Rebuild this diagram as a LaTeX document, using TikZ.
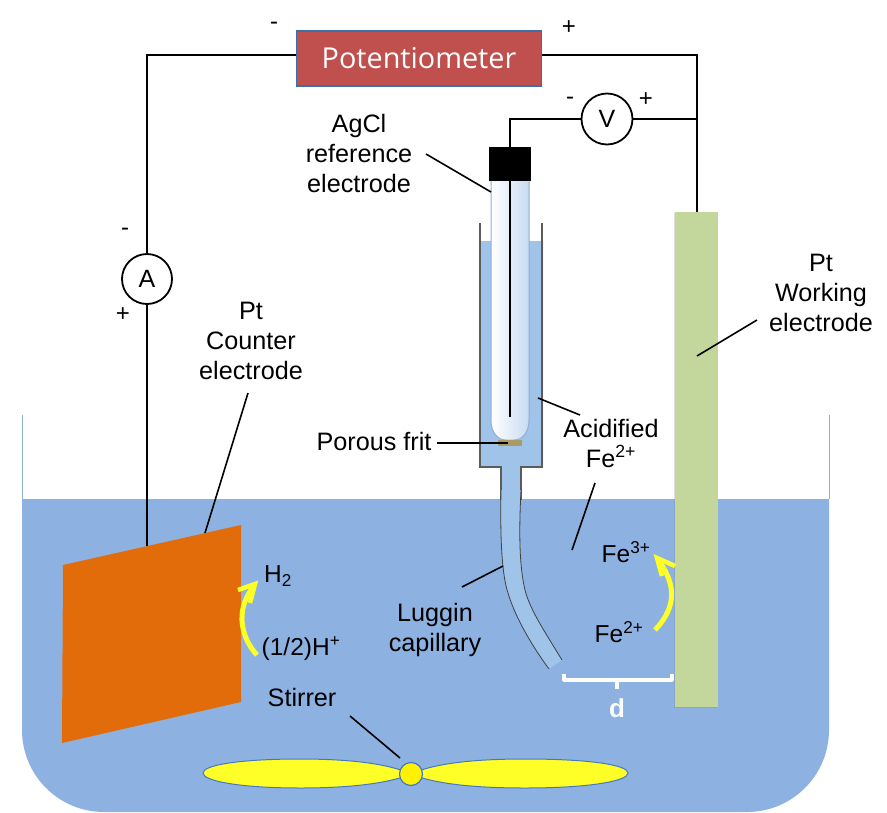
\documentclass[tikz,border=0pt]{standalone}
\usepackage{fontspec}
\setmainfont{Liberation Sans}
\newfontfamily\potfont{Open Sans}
\usetikzlibrary{arrows.meta,shadows}
\definecolor{bath}{RGB}{141,178,226}
\definecolor{tubeblue}{RGB}{160,195,233}
\definecolor{wallgray}{RGB}{130,130,130}
\definecolor{pot}{RGB}{192,80,77}
\definecolor{potedge}{RGB}{60,110,170}
\definecolor{copper}{RGB}{227,108,10}
\definecolor{green1}{RGB}{195,214,155}
\definecolor{frit}{RGB}{170,155,100}
\definecolor{yel}{RGB}{255,255,40}
\definecolor{edgeblue}{RGB}{70,120,190}
\tikzset{
 x=1pt,y=-1pt,
 wire/.style={draw=black,line width=1.8pt},
 leader/.style={draw=black,line width=1.6pt},
 lbl/.style={font=\fontsize{25.2}{30}\selectfont,align=center,inner sep=0pt,text=black},
 chem/.style={font=\fontsize{24.5}{30}\selectfont,align=center,inner sep=0pt,text=black},
 sign/.style={font=\fontsize{24}{26}\selectfont,inner sep=0pt},
 meter/.style={circle,draw=black,line width=1.8pt,fill=white,minimum size=50pt,inner sep=0pt,font=\fontsize{25}{28}\selectfont},
 rxn/.style={draw=yel,line width=5pt,line join=miter},
}
\begin{document}
\begin{tikzpicture}
\useasboundingbox (0,0) rectangle (887,812);
% bath
\fill[bath] (22,499) -- (829,499) -- (829,730) arc[start angle=0,end angle=90,radius=82] -- (104,812) arc[start angle=90,end angle=180,radius=82] -- cycle;
\draw[edgeblue!60,line width=1pt] (22,415) -- (22,499) (829,415) -- (829,499);
% coordinates
\coordinate (wireL) at (147,55);
\coordinate (wireR) at (697,55);
\coordinate (vtop) at (510,119);
\coordinate (vright) at (697,119);
\coordinate (counterwire) at (147,546);
% working electrode
\node[fill=green1,minimum width=43pt,minimum height=495pt,inner sep=0pt,anchor=north west,drop shadow={shadow xshift=-1pt,shadow yshift=-1pt,opacity=.25}] (work) at (675,212) {};
% wires
\node[fill=pot,draw=potedge,line width=1.5pt,minimum width=245pt,minimum height=55pt,inner sep=0pt,text=white,font=\potfont\fontsize{28.8}{32}\selectfont] (pot) at (419,58.5) {Potentiometer};
\node[meter] (A) at (147,279) {A};
\node[meter,minimum size=51pt] (V) at (607,119) {V};
\draw[wire] (pot.west |- wireL) -- (wireL) -- (A.north);
\draw[wire] (A.south) -- (counterwire);
\draw[wire] (pot.east |- wireR) -- (wireR) -- (work.north -| wireR);
\draw[wire] (V.east) -- (vright);
\draw[wire] (V.west) -- (vtop) -- (510,147);
% reference cell
\fill[tubeblue] (481,241) -- (543,241) -- (543,467) -- (521,467) -- (521,499) -- (501,499) -- (501,467) -- (481,467) -- cycle;
\draw[wallgray!70!black,line width=1.2pt] (480,223) -- (480,467) -- (501,467) -- (501,500);
\draw[wallgray!70!black,line width=1.2pt] (542,223) -- (542,467) -- (521,467) -- (521,500);
% capillary
\fill[tubeblue] (501,490) .. controls (500,540) and (502,575) .. (508,593) .. controls (516,620) and (535,650) .. (549,669) -- (562,660) .. controls (545,632) and (530,610) .. (525,590) .. controls (519,565) and (519,530) .. (521,490) -- cycle;
\draw[black!75,line width=.8pt] (501,490) .. controls (500,540) and (502,575) .. (508,593) .. controls (516,620) and (535,650) .. (549,669);
\draw[black!75,line width=.8pt] (521,490) .. controls (519,530) and (519,565) .. (525,590) .. controls (530,610) and (545,632) .. (562,660);
% inner tube
\path[left color=white,right color=tubeblue!60,draw=edgeblue!60,line width=1pt] (491,180) -- (491,420) .. controls (491,433) and (498,440) .. (506,440) -- (514,440) .. controls (522,440) and (529,433) .. (529,420) -- (529,180) -- cycle;
\fill[frit] (498,440) rectangle (522,446);
\node[fill=black,minimum width=42pt,minimum height=34pt,inner sep=0pt] (cap) at (510,164) {};
\draw[wire] (510,147) -- (510,417);
% counter electrode
\fill[copper] (63,565) -- (241,525) -- (241,702) -- (62,743) -- cycle;
% stirrer
\draw[edgeblue,line width=1pt,fill=yel] (411,774) .. controls (385,762) and (340,759) .. (300,759) .. controls (240,759) and (203,765) .. (203,773) .. controls (203,781) and (240,788) .. (300,788) .. controls (340,788) and (385,785) .. (411,774) -- cycle;
\draw[edgeblue,line width=1pt,fill=yel] (411,774) .. controls (437,762) and (482,759) .. (525,759) .. controls (590,759) and (628,765) .. (628,773) .. controls (628,781) and (590,788) .. (525,788) .. controls (482,788) and (437,785) .. (411,774) -- cycle;
\node[circle,fill=yellow,draw=edgeblue,line width=1.2pt,minimum size=23pt,inner sep=0pt] (hub) at (411,774) {};
% reaction arrows
\coordinate (r1a) at (655,630);
\coordinate (r1b) at (659,561);
\draw[rxn] (r1a) .. controls (672,612) and (680,590) .. (r1b);
\draw[rxn,line width=4.5pt] (675,566) -- (657,558) -- (662,576);
\coordinate (r2a) at (257,655);
\coordinate (r2b) at (254,586);
\draw[rxn] (r2a) .. controls (243,640) and (233,612) .. (r2b);
\draw[rxn,line width=4.5pt] (238,590) -- (255,584) -- (250,603);
% bracket d
\coordinate (dl) at (564,674);
\coordinate (dr) at (672,674);
\coordinate (dmid) at (617,680);
\draw[white,line width=3.2pt,line join=round] (dl) -- (564,680) -- (dmid) -- (672,680) -- (dr);
\draw[white,line width=3.2pt] (dmid) -- (617,689);
\node[font=\bfseries\fontsize{26}{28}\selectfont,text=white,inner sep=0pt] (d) at (617,708) {d};
% labels
\node[lbl] (agcl) at (359,153) {AgCl\\reference\\electrode};
\node[lbl] (ptc) at (251,341) {Pt\\Counter\\electrode};
\node[lbl] (ptw) at (821,293) {Pt\\Working\\electrode};
\node[lbl] (pf) at (374,441) {Porous frit};
\node[lbl] (acid) at (611,443) {Acidified\\Fe\textsuperscript{2+}};
\node[lbl] (lug) at (435,630) {Luggin\\capillary};
\node[lbl] (stir) at (302,697) {Stirrer};
\node[chem] (fe3) at (626,552) {Fe\textsuperscript{3+}};
\node[chem] (fe2) at (619,632) {Fe\textsuperscript{2+}};
\node[chem] (h2) at (278,576) {H\textsubscript{2}};
\node[chem] (hp) at (301,649) {(1/2)H\textsuperscript{+}};
% signs
\node[sign] (s1) at (274,26) {-};
\node[sign] (s2) at (569,28) {+};
\node[sign] (s3) at (570,101) {-};
\node[sign] (s4) at (646,100) {+};
\node[sign] (s5) at (125,232) {-};
\node[sign] (s6) at (123,315) {+};
% leaders
\draw[leader] (426,154) -- (491,192);
\draw[leader] (248,393) -- (205,533);
\draw[leader] (757,320) -- (697,356);
\draw[leader] (437,443) -- (508,443);
\draw[leader] (538,398) -- (580,415);
\draw[leader] (595,483) -- (572,550);
\draw[leader] (462,587) -- (503,566);
\draw[leader] (350,716) -- (400,758);
\end{tikzpicture}
\end{document}
